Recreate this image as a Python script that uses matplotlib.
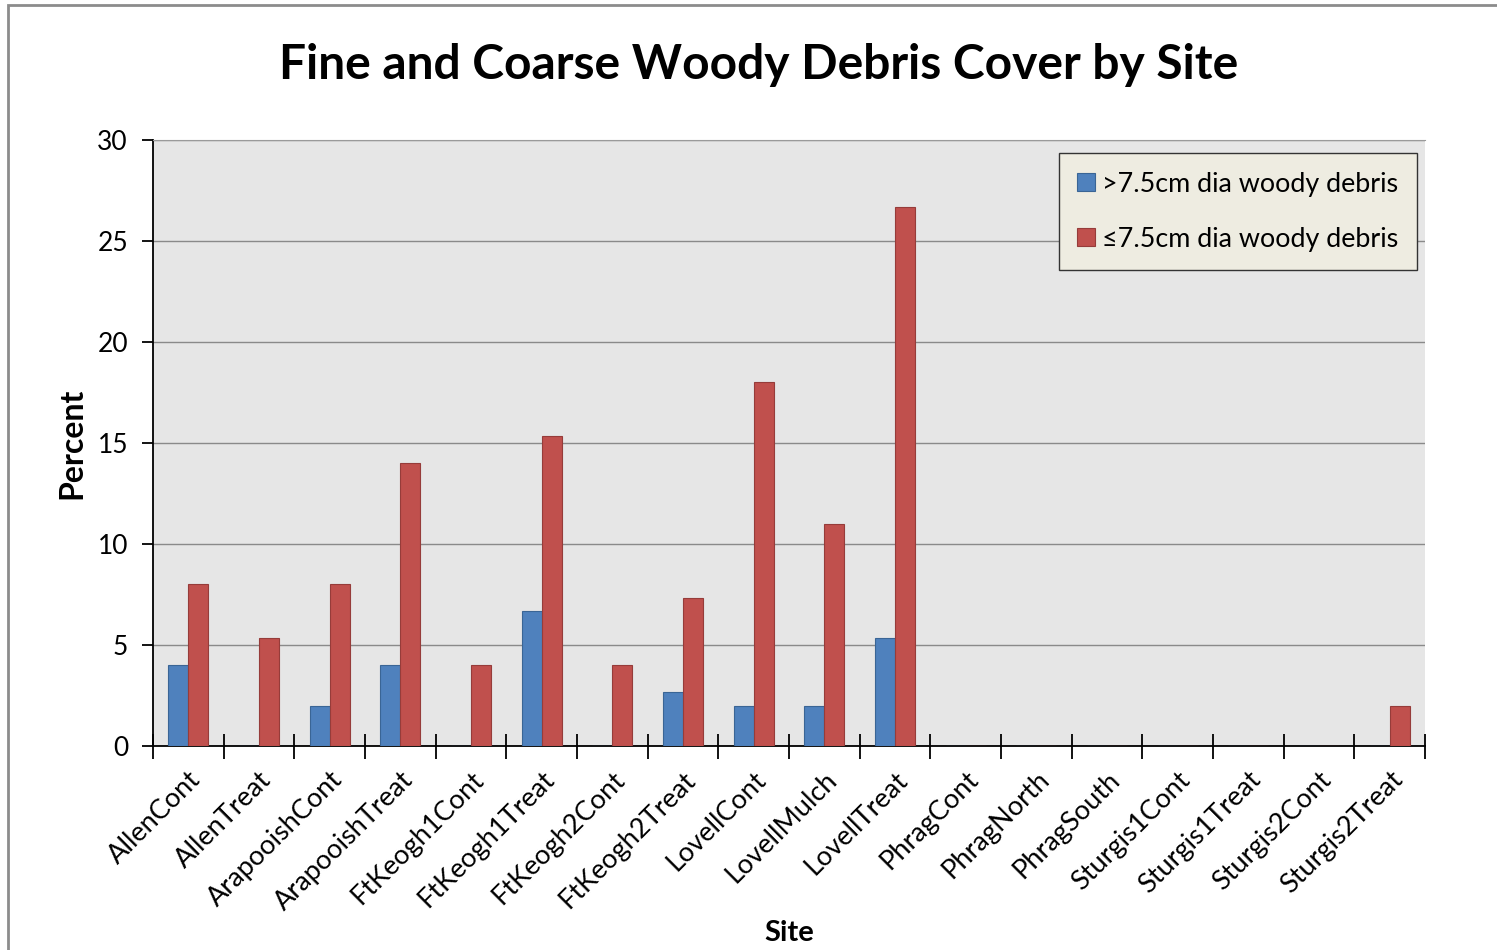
import numpy as np
import matplotlib.pyplot as plt
from matplotlib.patches import Rectangle

# Woody debris cover per site (percent)
sites = ['AllenCont', 'AllenTreat', 'ArapooishCont', 'ArapooishTreat',
         'FtKeogh1Cont', 'FtKeogh1Treat', 'FtKeogh2Cont', 'FtKeogh2Treat',
         'LovellCont', 'LovellMulch', 'LovellTreat', 'PhragCont',
         'PhragNorth', 'PhragSouth', 'Sturgis1Cont', 'Sturgis1Treat',
         'Sturgis2Cont', 'Sturgis2Treat']
coarse = [4, 0, 2, 4, 0, 6.67, 0, 2.67, 2, 2, 5.33, 0, 0, 0, 0, 0, 0, 0]
fine = [8, 5.33, 8, 14, 4, 15.33, 4, 7.33, 18, 11, 26.67, 0, 0, 0, 0, 0, 0, 2]

plt.rcParams['font.family'] = ['Lato', 'DejaVu Sans']

fig = plt.figure(figsize=(14.97, 9.5), dpi=100)
ax = fig.add_axes([153/1497, 1 - 746/950, (1425 - 153)/1497, (746 - 140)/950])

# outer chart frame
fig.patches.append(Rectangle((8/1497, -0.1), 1.2, 1 - 5/950 + 0.1,
                             transform=fig.transFigure, fill=False,
                             edgecolor='#8c8c8c', linewidth=2, zorder=0))

x = np.arange(len(sites))
w = 0.283
ax.bar(x - w/2, coarse, w, color='#4f81bd', edgecolor='#3a6595', linewidth=0.8,
       label='>7.5cm dia woody debris', zorder=3)
ax.bar(x + w/2, fine, w, color='#c0504d', edgecolor='#963c3a', linewidth=0.8,
       label='\u22647.5cm dia woody debris', zorder=3)

ax.set_facecolor('#e6e6e6')
ax.set_xlim(-0.5, len(sites) - 0.5)
ax.set_ylim(0, 30)
ax.set_yticks(range(0, 31, 5))
ax.yaxis.grid(True, color='#8a8a8a', linewidth=1)
ax.set_axisbelow(True)

ax.set_xticks(x)
ax.set_xticklabels(sites, rotation=45, ha='right', rotation_mode='anchor', fontsize=19.5)
ax.tick_params(axis='x', length=0, pad=15)
ax.set_xticks(np.arange(-0.5, len(sites)), minor=True)
ax.tick_params(axis='x', which='minor', direction='inout', length=18, width=1.3)
ax.tick_params(axis='y', labelsize=19, length=8, width=1.3, pad=10)

ax.spines['right'].set_visible(False)
ax.spines['top'].set_color('#9a9a9a')
ax.spines['left'].set_linewidth(1.3)
ax.spines['bottom'].set_linewidth(1.3)

ax.set_ylabel('Percent', fontsize=23, fontweight='bold', labelpad=8)
ax.set_xlabel('Site', fontsize=21, fontweight='bold', labelpad=4)
fig.suptitle('Fine and Coarse Woody Debris Cover by Site', fontsize=34.5,
             fontweight='bold', x=0.507, y=0.955)

leg = ax.legend(loc='upper right', bbox_to_anchor=(0.9935, 0.9785), fontsize=19.4,
                frameon=True, fancybox=False, handlelength=0.65, handleheight=0.65,
                handletextpad=0.25, labelspacing=1.1, borderpad=0.7, borderaxespad=0)
leg.get_frame().set_facecolor('#eeece1')
leg.get_frame().set_edgecolor('#333333')
leg.get_frame().set_alpha(1)

fig.savefig('out.png', dpi=100)
